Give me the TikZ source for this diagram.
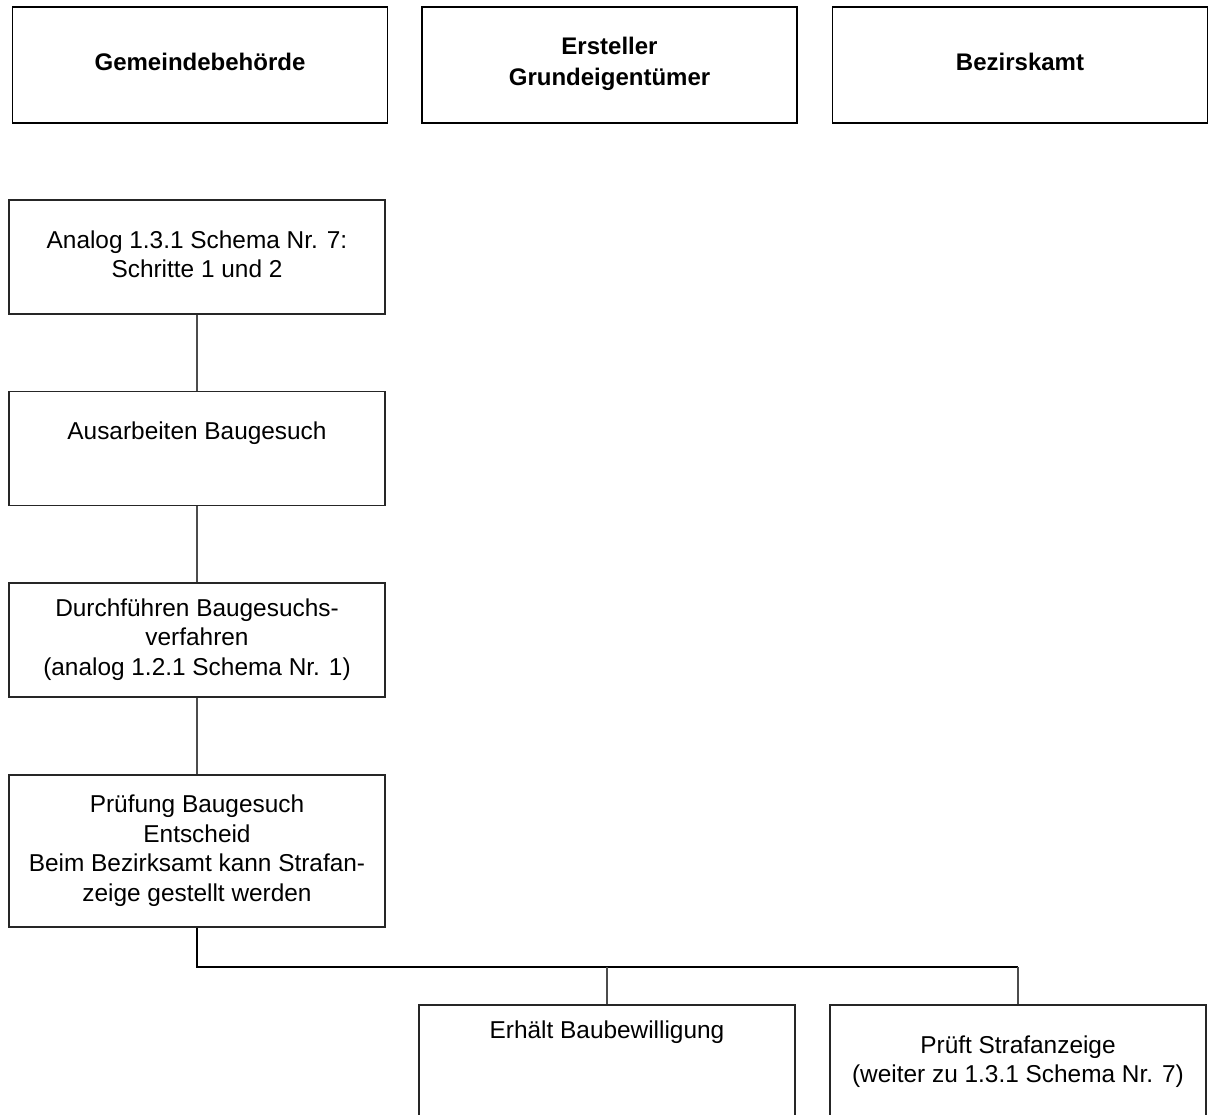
\documentclass[tikz,border=0pt]{standalone}
\usepackage{fontspec}
\setmainfont{Liberation Sans}
% struts that keep every text line the same height
\newcommand{\ls}{\rule[-6pt]{0pt}{23.5pt}}
\newcommand{\lb}{\rule[-7pt]{0pt}{24.5pt}}
\begin{document}
\begin{tikzpicture}[x=1pt,y=1pt,
  header/.style={draw=black, line width=1.8pt, rectangle, inner sep=0pt,
    minimum width=375pt, minimum height=116pt, align=center,
    font=\fontsize{24}{31.5}\selectfont\bfseries},
  stepbox/.style={draw=black!85, line width=1.1pt, rectangle, inner sep=0pt,
    minimum width=376pt, minimum height=114pt, align=center,
    font=\fontsize{24.4}{29.5}\selectfont},
  link/.style={draw=black!70, line width=1.1pt},
  bus/.style={draw=black, line width=1.6pt}]
\clip (0,0) rectangle (1210,-1115);
\fill[white] (0,0) rectangle (1210,-1115);

% column headers
\node[header] (h1) at (200,-65)   {\lb Gemeindebehörde};
\node[header] (h2) at (609.5,-65) {\lb Ersteller\\\lb Grundeigentümer};
\node[header] (h3) at (1020,-65)  {\lb Bezirskamt};

% process steps
\node[stepbox] (A) at (197,-257)   {\ls Analog 1.3.1 Schema Nr. 7:\\\ls Schritte 1 und 2};
\node[stepbox] (B) at (197,-448.5) {\ls Ausarbeiten Baugesuch\\\ls};
\node[stepbox] (C) at (197,-640)   {\ls Durchführen Baugesuchs-\\\ls verfahren\\\ls (analog 1.2.1 Schema Nr. 1)};
\node[stepbox, minimum height=152pt] (D) at (197,-851)
  {\ls Prüfung Baugesuch\\\ls Entscheid\\\ls Beim Bezirksamt kann Strafan-\\\ls zeige gestellt werden};
\node[stepbox] (E) at (607,-1062)  {\ls Erhält Baubewilligung\\\ls\\\ls};
\node[stepbox] (F) at (1018,-1062) {\ls Prüft Strafanzeige\\\ls (weiter zu 1.3.1 Schema Nr. 7)};

% connectors
\draw[link] (A.south) -- (B.north);
\draw[link] (B.south) -- (C.north);
\draw[link] (C.south) -- (D.north);
\coordinate (split) at (197,-967);
\draw[bus] (D.south) -- (split) -- (split -| F.north);
\draw[link] (split -| E.north) -- (E.north);
\draw[link] (split -| F.north) -- (F.north);
\end{tikzpicture}
\end{document}
